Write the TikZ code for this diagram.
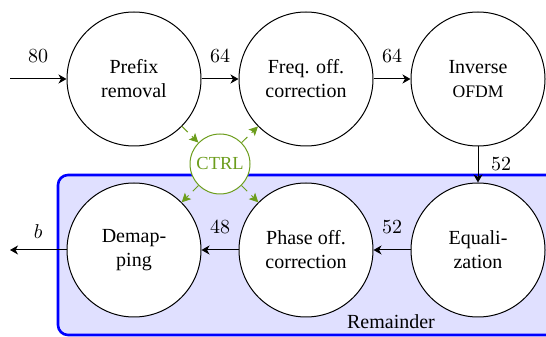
\documentclass[tikz,border=0pt]{standalone}
\usepackage{fontspec}
\setmainfont{Liberation Serif}
\usetikzlibrary{arrows.meta}
\definecolor{ctrlgreen}{RGB}{108,157,28}
\begin{document}
\begin{tikzpicture}[x=1pt,y=1pt,
  blk/.style={circle,draw,fill=white,minimum size=67pt,inner sep=0pt,align=center,line width=0.5pt},
  ctrlnode/.style={circle,draw=ctrlgreen,fill=white,text=ctrlgreen,minimum size=30pt,inner sep=0pt,line width=0.5pt},
  flow/.style={line width=0.5pt,-{Stealth[length=4pt,width=4.5pt,inset=1.2pt]}},
  ctlarrow/.style={ctrlgreen,line width=0.5pt,dash pattern=on 4pt off 3pt,-{Stealth[length=4.5pt,width=4.5pt,inset=1pt]}},
  remainder/.style={draw=blue,line width=1.3pt,fill=blue!12,rounded corners=5pt}]
\useasboundingbox (0,0) rectangle (273,168.5);
\clip (0,0) rectangle (273,168.5);
\draw[remainder] (29,1) rectangle (295,81);
\node (rem) at (195.5,7.5) {Remainder};
\node[blk] (pre) at (67,129) {Prefix\\removal};
\node[blk] (frq) at (153,129) {Freq. off.\\correction};
\node[blk] (inv) at (239,129) {Inverse\\{\fontsize{8.8pt}{10pt}\selectfont OFDM}};
\node[blk] (dem) at (67,43.5) {Demap-\\ping};
\node[blk] (pha) at (153,43.5) {Phase off.\\correction};
\node[blk] (equ) at (239,43.5) {Equali-\\zation};
\node[ctrlnode] (ctl) at (110,86.5) {\fontsize{9.2pt}{10pt}\selectfont CTRL};
\coordinate (in) at (5,129);
\coordinate (out) at (5,43.5);
\draw[flow] (in) -- node[above=4.7pt]{$80$} (pre);
\draw[flow] (pre) -- node[above=4.7pt]{$64$} (frq);
\draw[flow] (frq) -- node[above=4.7pt]{$64$} (inv);
\draw[flow] (inv) -- node[right=3pt]{$52$} (equ);
\draw[flow] (equ) -- node[above=4.7pt]{$52$} (pha);
\draw[flow] (pha) -- node[above=4.7pt]{$48$} (dem);
\draw[flow] (dem) -- node[above=2.2pt]{$b$} (out);
\draw[ctlarrow] (pre) -- (ctl);
\draw[ctlarrow] (ctl) -- (frq);
\draw[ctlarrow] (ctl) -- (dem);
\draw[ctlarrow] (ctl) -- (pha);
\end{tikzpicture}
\end{document}
